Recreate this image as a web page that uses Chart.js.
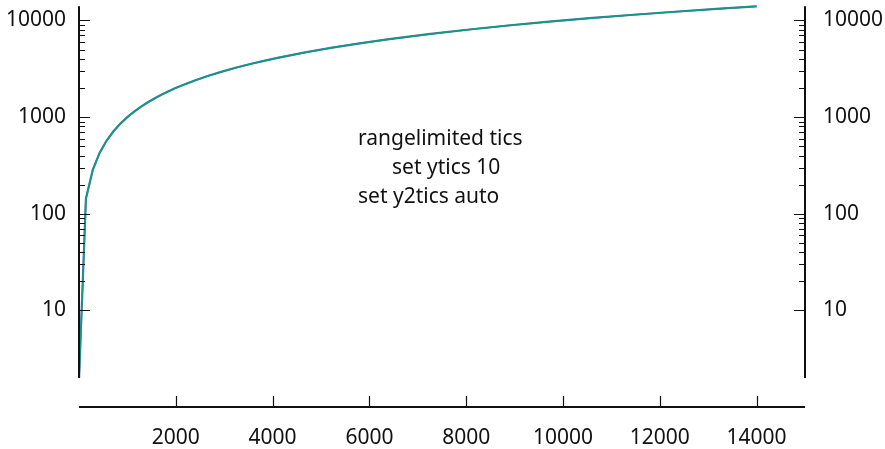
<!DOCTYPE html>
<html>
<head>
<meta charset="utf-8">
<script src="https://cdn.jsdelivr.net/npm/chart.js@4.4.1/dist/chart.umd.min.js"></script>
<style>
  html, body { margin: 0; padding: 0; background: #fff; }
  canvas { display: block; }
</style>
</head>
<body>
<canvas id="chart" width="885" height="449"></canvas>
<script>
// ============================
// Data
// ============================
const xValues  = [2, 143, 285, 426, 568, 709, 851, 992, 1133, 1275, 1416, 1558, 1700, 1841, 1983, 2124,
                  2407, 2690, 2973, 3256, 3539, 3822, 4105, 4671, 5237, 5803, 6369, 7218, 8067, 8916,
                  9765, 10614, 11463, 12312, 13161, 14000];
const yLeft    = [2, 143, 285, 426, 568, 709, 851, 992, 1133, 1275, 1416, 1558, 1700, 1841, 1983, 2124,
                  2407, 2690, 2973, 3256, 3539, 3822, 4105, 4671, 5237, 5803, 6369, 7218, 8067, 8916,
                  9765, 10614, 11463, 12312, 13161, 14000];
const yRight   = [2, 143, 285, 426, 568, 709, 851, 992, 1133, 1275, 1416, 1558, 1700, 1841, 1983, 2124,
                  2407, 2690, 2973, 3256, 3539, 3822, 4105, 4671, 5237, 5803, 6369, 7218, 8067, 8916,
                  9765, 10614, 11463, 12312, 13161, 14000];
const xTicks   = [2000, 4000, 6000, 8000, 10000, 12000, 14000];
const yTicks   = [10, 100, 1000, 10000];
const yMinor   = [20, 30, 40, 50, 60, 70, 80, 90,
                  200, 300, 400, 500, 600, 700, 800, 900,
                  2000, 3000, 4000, 5000, 6000, 7000, 8000, 9000];
const noteLines = ["rangelimited tics", "set ytics 10", "set y2tics auto"];

const FONT = { family: "'Noto Sans', 'Open Sans', sans-serif", size: 21 };
const INK = "#111";

const pts = ys => xValues.map((x, i) => ({ x, y: ys[i] }));
const fixTicks = list => s => { s.ticks = list.map(v => ({ value: v })); };
const noPad = s => { s.paddingTop = 0; s.paddingBottom = 0; s.paddingLeft = 0; s.paddingRight = 0; };

// axis lines, inward tick marks and the note text
const axesPlugin = {
    id: "gnuAxes",
    afterDraw(chart) {
        const { ctx, chartArea: a, scales } = chart;
        const { x, y, y2 } = scales;
        const lo = Math.min(...yLeft), hi = Math.max(...yLeft);
        ctx.save();
        ctx.strokeStyle = INK;
        ctx.lineCap = "butt";

        // axis lines
        ctx.lineWidth = 2;
        ctx.beginPath();
        ctx.moveTo(a.left, y.getPixelForValue(hi)); ctx.lineTo(a.left, y.getPixelForValue(lo));
        ctx.moveTo(a.right, y2.getPixelForValue(hi)); ctx.lineTo(a.right, y2.getPixelForValue(lo));
        ctx.moveTo(x.getPixelForValue(0), a.bottom); ctx.lineTo(x.getPixelForValue(15000), a.bottom);
        ctx.stroke();

        // ticks
        ctx.lineWidth = 1.2;
        ctx.beginPath();
        yTicks.forEach(v => {
            const py = Math.round(y.getPixelForValue(v)) + 0.5;
            ctx.moveTo(a.left, py); ctx.lineTo(a.left + 11, py);
            const py2 = Math.round(y2.getPixelForValue(v)) + 0.5;
            ctx.moveTo(a.right, py2); ctx.lineTo(a.right - 11, py2);
        });
        yMinor.forEach(v => {
            const py = Math.round(y.getPixelForValue(v)) + 0.5;
            ctx.moveTo(a.left, py); ctx.lineTo(a.left + 6, py);
            const py2 = Math.round(y2.getPixelForValue(v)) + 0.5;
            ctx.moveTo(a.right, py2); ctx.lineTo(a.right - 6, py2);
        });
        xTicks.forEach(v => {
            const px = Math.round(x.getPixelForValue(v)) + 0.5;
            ctx.moveTo(px, a.bottom); ctx.lineTo(px, a.bottom - 11);
        });
        ctx.stroke();

        // note
        ctx.fillStyle = INK;
        ctx.font = `${FONT.size}px ${FONT.family}`;
        ctx.textBaseline = "alphabetic";
        ctx.textAlign = "left";
        const noteX = [358, 392, 358];
        noteLines.forEach((t, i) => ctx.fillText(t, noteX[i], 145 + i * 29));
        ctx.restore();
    }
};

const commonY = {
    type: "logarithmic", min: 1, max: 14800,
    grid: { display: false, drawTicks: false },
    border: { display: false },
    afterBuildTicks: fixTicks(yTicks),
    ticks: { font: FONT, color: INK, callback: v => String(v), autoSkip: false }
};

new Chart(document.getElementById("chart"), {
    type: "line",
    data: {
        datasets: [
            { data: pts(yLeft), yAxisID: "y", borderColor: "#4a76a6", borderWidth: 2.2, pointRadius: 0, tension: 0, order: 2 },
            { data: pts(yRight), yAxisID: "y2", borderColor: "#0f9a84", borderWidth: 1.5, pointRadius: 0, tension: 0, order: 1 }
        ]
    },
    options: {
        responsive: false, animation: false,
        layout: { padding: { top: 4, left: 0, right: 0, bottom: 0 } },
        plugins: { legend: { display: false }, tooltip: { enabled: false } },
        scales: {
            x: {
                type: "linear", min: 0, max: 15000,
                grid: { display: false, drawTicks: false },
                border: { display: false },
                afterBuildTicks: fixTicks(xTicks),
                afterFit: s => { noPad(s); s.height = 42; },
                ticks: { font: FONT, color: INK, padding: 18, maxRotation: 0, autoSkip: false, callback: v => String(v) }
            },
            y: { ...commonY, position: "left", afterFit: s => { noPad(s); s.width = 79; },
                 ticks: { ...commonY.ticks, padding: 13 } },
            y2: { ...commonY, position: "right", afterFit: s => { noPad(s); s.width = 80; },
                  ticks: { ...commonY.ticks, padding: 18 } }
        }
    },
    plugins: [axesPlugin]
});
</script>
</body>
</html>
